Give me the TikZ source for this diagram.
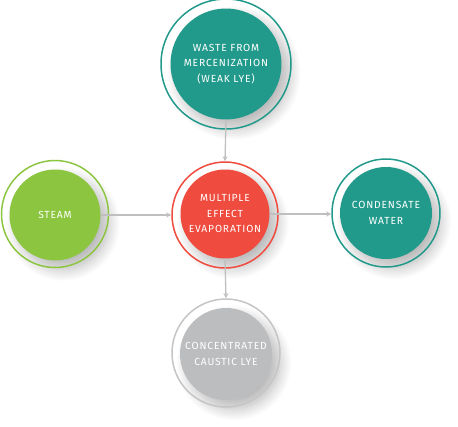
\documentclass[tikz,border=0pt]{standalone}
\usepackage{fontspec}
\setmainfont{Fira Sans}[LetterSpace=8]
\usetikzlibrary{arrows.meta,shadows.blur}
\definecolor{cteal}{HTML}{229A8B}
\definecolor{cgreen}{HTML}{8CC53F}
\definecolor{cred}{HTML}{EF4B3E}
\definecolor{cgrey}{HTML}{BCBDBF}
\definecolor{cring}{HTML}{C4C5C7}
\definecolor{carrow}{HTML}{BFBFBF}
\tikzset{
  core/.style={circle, fill=#1, text=white, align=center, inner sep=0pt,
    font=\fontsize{10.3}{15.5}\selectfont,
    blur shadow={shadow xshift=8pt, shadow yshift=-9pt, shadow blur steps=14, shadow blur radius=12pt, shadow opacity=28}},
  ring/.style={circle, draw=#1, line width=1.5pt, fill=none},
  flow/.style={draw=carrow, line width=1.3pt, -{Stealth[length=5pt,width=5pt]}}
}
\begin{document}
\begin{tikzpicture}[x=1pt,y=-1pt]
\useasboundingbox (0,0) rectangle (458,426);
% cores
\node[core=cteal, minimum size=111pt] (top) at (226,64) {WASTE FROM\\MERCENIZATION\\(WEAK LYE)};
\node[core=cgreen, minimum size=91pt] (steam) at (55,215) {STEAM};
\node[core=cred, minimum size=89pt] (mid) at (225,214) {MULTIPLE\\EFFECT\\EVAPORATION};
\node[core=cteal, minimum size=92pt] (cond) at (386,213) {CONDENSATE\\WATER};
\node[core=cgrey, minimum size=92pt] (bot) at (226,354) {CONCENTRATED\\CAUSTIC LYE};
% rings
\node[ring=cteal, minimum size=130pt] (rtop) at (226,64) {};
\node[ring=cgreen, minimum size=107pt] (rsteam) at (55,214) {};
\node[ring=cred, minimum size=106pt] (rmid) at (225,215) {};
\node[ring=cteal, minimum size=108pt] (rcond) at (386,213) {};
\node[ring=cring, minimum size=108pt] (rbot) at (226,353) {};
% arrows
\draw[flow] (top.south) -- (rmid.north);
\draw[flow] (steam.east) -- (steam.east -| rmid.west);
\draw[flow] (mid.east) -- (mid.east -| rcond.west);
\draw[flow] (mid.south) -- (rbot.north);
\end{tikzpicture}
\end{document}
